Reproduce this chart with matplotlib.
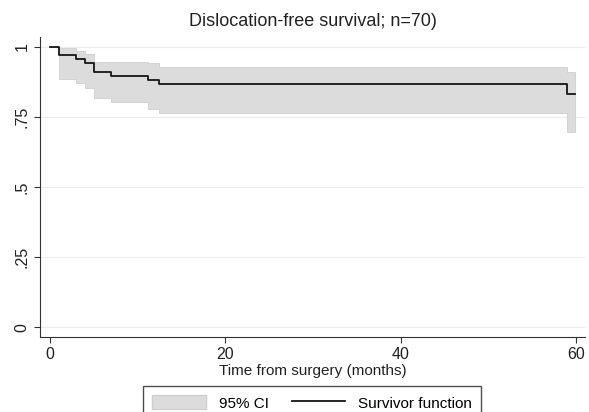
import numpy as np
import matplotlib
matplotlib.use('Agg')
import matplotlib.pyplot as plt
from matplotlib.patches import Patch
from matplotlib.lines import Line2D

plt.rcParams['font.family'] = ['Liberation Sans', 'DejaVu Sans']

# step times (months) and survivor estimates
times = [0, 1, 3, 4, 5, 7, 11.2, 12.4, 58.9, 59.9]
surv = [1.0, 0.970, 0.955, 0.941, 0.911, 0.897, 0.881, 0.867, 0.830, 0.830]
ci_upper = [1.0, 0.994, 0.986, 0.974, 0.947, 0.947, 0.941, 0.929, 0.911, 0.911]
ci_lower = [1.0, 0.887, 0.870, 0.854, 0.816, 0.804, 0.778, 0.763, 0.697, 0.697]

yticks = [0, 0.25, 0.5, 0.75, 1]
yticklabels = ['0', '.25', '.5', '.75', '1']
xticks = [0, 20, 40, 60]

fig = plt.figure(figsize=(5.89, 4.12), dpi=100)
ax = fig.add_axes([0.0679, 0.1825, 0.9253, 0.7277])

ax.fill_between(times, ci_lower, ci_upper, step='post',
                facecolor='#dcdcdc', edgecolor='#cfcfcf', linewidth=0.6)
ax.step(times, surv, where='post', color='#151515', linewidth=1.3)

ax.set_xlim(-1.14, 61.0)
ax.set_ylim(-0.034, 1.035)
ax.set_yticks(yticks)
ax.set_yticklabels(yticklabels, rotation=90, va='center')
ax.set_xticks(xticks)
for y in yticks:
    ax.axhline(y, color='#ececec', linewidth=0.8, zorder=0)

ax.spines['top'].set_visible(False)
ax.spines['right'].set_visible(False)
ax.spines['left'].set_color('#333333')
ax.spines['bottom'].set_color('#333333')
ax.tick_params(direction='out', length=4.5, color='#333333', labelsize=11.5,
               labelcolor='#222222', pad=3)
ax.set_xlabel('Time from surgery (months)', fontsize=11, labelpad=1,
              color='#222222')
ax.set_title('Dislocation-free survival; n=70)', fontsize=13,
             color='#222222', pad=8)

handles = [Patch(facecolor='#dcdcdc', edgecolor='#cfcfcf'),
           Line2D([0], [0], color='#151515', linewidth=1.3)]
leg = fig.legend(handles, ['95% CI', 'Survivor function'], loc='upper center',
                 bbox_to_anchor=(0.53, 0.063), borderaxespad=0, ncol=2,
                 frameon=True, fancybox=False, edgecolor='#222222',
                 fontsize=11, handlelength=3.5, handleheight=1.05,
                 handletextpad=0.85, columnspacing=1.5, borderpad=0.6)
leg.get_frame().set_linewidth(1.0)

fig.savefig('out.png', dpi=100, facecolor='white')
